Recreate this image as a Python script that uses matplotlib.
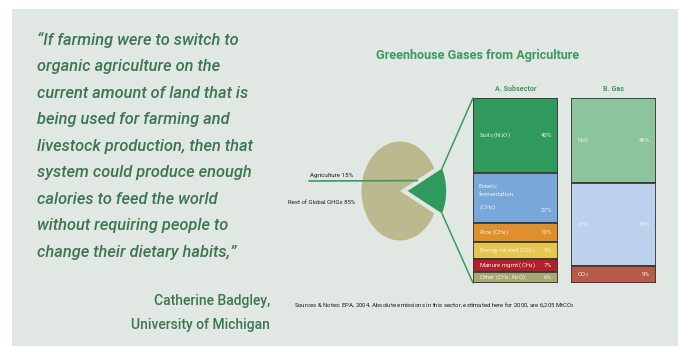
import matplotlib
matplotlib.use("Agg")
import matplotlib.pyplot as plt
from matplotlib.patches import Rectangle, ConnectionPatch
import numpy as np

# ---------------- data ----------------
quote_lines = [
    "\u201cIf farming were to switch to",
    "organic agriculture on the",
    "current amount of land that is",
    "being used for farming and",
    "livestock production, then that",
    "system could produce enough",
    "calories to feed the world",
    "without requiring people to",
    "change their dietary habits,\u201d",
]
attribution = ["Catherine Badgley,", "University of Michigan"]
title = "Greenhouse Gases from Agriculture"

pie_labels = ["Agriculture 15%", "Rest of Global GHGs 85%"]
pie_values = [15, 85]

subsector_labels = ["Soils (N$_2$O)", "Enteric\nfermentation\n(CH$_4$)", "Rice (CH$_4$)",
                    "Energy-related (CO$_2$)", "Manure mgmt (CH$_4$)", "Other (CH$_4$, N$_2$O)"]
subsector_values = [40, 27, 10, 9, 7, 6]

gas_labels = ["N$_2$O", "CH$_4$", "CO$_2$"]
gas_values = [46, 45, 9]

panel_titles = ["A. Subsector", "B. Gas"]
source_note = ("Sources & Notes: EPA, 2004. Absolute emissions in this sector, "
               "estimated here for 2000, are 6,205 MtCO$_2$")

# ---------------- style ----------------
plt.rcParams["font.family"] = ["Roboto", "DejaVu Sans"]
plt.rcParams["mathtext.fontset"] = "custom"
plt.rcParams["mathtext.rm"] = "Roboto"
plt.rcParams["mathtext.it"] = "Roboto:italic"
plt.rcParams["mathtext.bf"] = "Roboto:bold"

W, H = 683, 346
PANEL = "#e1e8e3"
DARKGREEN = "#3d7553"
TITLEGREEN = "#3a9a62"
sub_colors = ["#2f9a5c", "#79a7d9", "#df8f2b", "#e6c64c", "#b3202c", "#a9a772"]
gas_colors = ["#8cc49e", "#bcd1ec", "#b75a49"]
pie_colors = ["#2f9a5c", "#bdb98e"]
EDGE = "#3a3a3a"
INK = "#edf2ee"

fig = plt.figure(figsize=(W / 100, H / 100), dpi=100)
fig.patch.set_facecolor("white")
renderer = fig.canvas.get_renderer()


def fit(texts, width_px):
    """Scale the font size of a group of texts so the widest one spans width_px."""
    widest = max(t.get_window_extent(renderer).width for t in texts)
    for t in texts:
        t.set_fontsize(t.get_fontsize() * width_px / widest)


bg = fig.add_axes([0, 0, 1, 1])
bg.set_xlim(0, W)
bg.set_ylim(H, 0)
bg.axis("off")
bg.add_patch(Rectangle((12, 9), 666, 340, facecolor=PANEL, edgecolor="none"))

# quote
qt = [bg.text(37, 40 + i * 26.5, line, ha="left", va="center", fontsize=12,
              style="italic", fontweight="medium", color=DARKGREEN)
      for i, line in enumerate(quote_lines)]
fit(qt, 216)
at = [bg.text(270, 301 + i * 24, line, ha="right", va="center", fontsize=12,
              fontweight="medium", color=DARKGREEN) for i, line in enumerate(attribution)]
fit(at, 138)

# title
tt = bg.text(478, 55, title, ha="center", va="center", fontsize=9,
             fontweight="bold", color=TITLEGREEN)
fit([tt], 204)

# ---------------- pie ----------------
cx, cy, rx, ry = 400, 191, 38.5, 49.5
axp = fig.add_axes([(cx - rx) / W, 1 - (cy + ry) / H, 2 * rx / W, 2 * ry / H])
wedges, _ = axp.pie(pie_values, colors=pie_colors, startangle=-27,
                    explode=[0.2, 0], radius=1, wedgeprops=dict(linewidth=0))
axp.set_aspect("auto")
axp.set_xlim(-1, 1)
axp.set_ylim(-1, 1)
axp.axis("off")
for w in wedges:
    w.set_clip_on(False)

# ---------------- stacked boxes ----------------
box_top, box_bot = 98, 283
axA = fig.add_axes([473 / W, 1 - box_bot / H, 85 / W, (box_bot - box_top) / H])
axB = fig.add_axes([571 / W, 1 - box_bot / H, 85 / W, (box_bot - box_top) / H])


def stacked(ax, labels, values, colors, title_txt, fs):
    vals = np.array(values, dtype=float)
    bottoms = np.concatenate([[0], np.cumsum(vals)[:-1]])
    ax.bar(np.zeros(len(vals)), vals, bottom=bottoms, width=1, color=colors,
           edgecolor=EDGE, linewidth=1.3)
    ax.set_xlim(-0.5, 0.5)
    ax.set_ylim(vals.sum(), 0)
    ax.axis("off")
    px_per_unit = (box_bot - box_top) / vals.sum()
    line_h = 12.5 / px_per_unit
    for lab, v, b in zip(labels, values, bottoms):
        c = b + v / 2
        n = lab.count("\n") + 1
        ax.text(-0.43, c, lab, ha="left", va="center", fontsize=fs, color=INK,
                linespacing=1.9)
        ax.text(0.43, c + (n - 1) / 2 * line_h, f"{v}%", ha="right", va="center",
                fontsize=fs, color=INK)
    return ax.text(0.5, 1.025, title_txt, transform=ax.transAxes, ha="center",
                   va="bottom", fontsize=6, fontweight="bold", color=TITLEGREEN)


# size box labels so that "Soils (N2O)" spans ~32 px like the reference
probe = bg.text(0, 0, subsector_labels[0], fontsize=5)
box_fs = 5 * 32 / probe.get_window_extent(renderer).width
probe.remove()

ta = stacked(axA, subsector_labels, subsector_values, sub_colors, panel_titles[0], box_fs)
tb = stacked(axB, gas_labels, gas_values, gas_colors, panel_titles[1], box_fs)
fit([ta], 42)
tb.set_fontsize(ta.get_fontsize())

# leader lines from agriculture wedge corners to box A
ag = wedges[0]
wcx, wcy = ag.center
for ang, target in [(ag.theta2, (0, 1)), (ag.theta1, (0, 0))]:
    pt = (wcx + ag.r * np.cos(np.radians(ang)), wcy + ag.r * np.sin(np.radians(ang)))
    con = ConnectionPatch(xyA=pt, coordsA=axp.transData, xyB=target,
                          coordsB=axA.transAxes, color=TITLEGREEN, lw=1.1)
    fig.add_artist(con)

# pie labels
p1 = bg.text(310, 175, pie_labels[0], ha="left", va="center", fontsize=5, color="#1e1e1e")
fit([p1], 44)
p2 = bg.text(288, 203, pie_labels[1], ha="left", va="center", fontsize=5, color="#1e1e1e")
fit([p2], 68)
con = ConnectionPatch(xyA=(309, 181), coordsA=bg.transData, xyB=(wcx + 0.25, 0.21),
                      coordsB=axp.transData, color=TITLEGREEN, lw=1.2)
fig.add_artist(con)

# source note
sn = bg.text(294, 305, source_note, ha="left", va="center", fontsize=4.7, color="#1e1e1e")
fit([sn], 281)

fig.savefig("out.png", dpi=100, facecolor=fig.get_facecolor())
